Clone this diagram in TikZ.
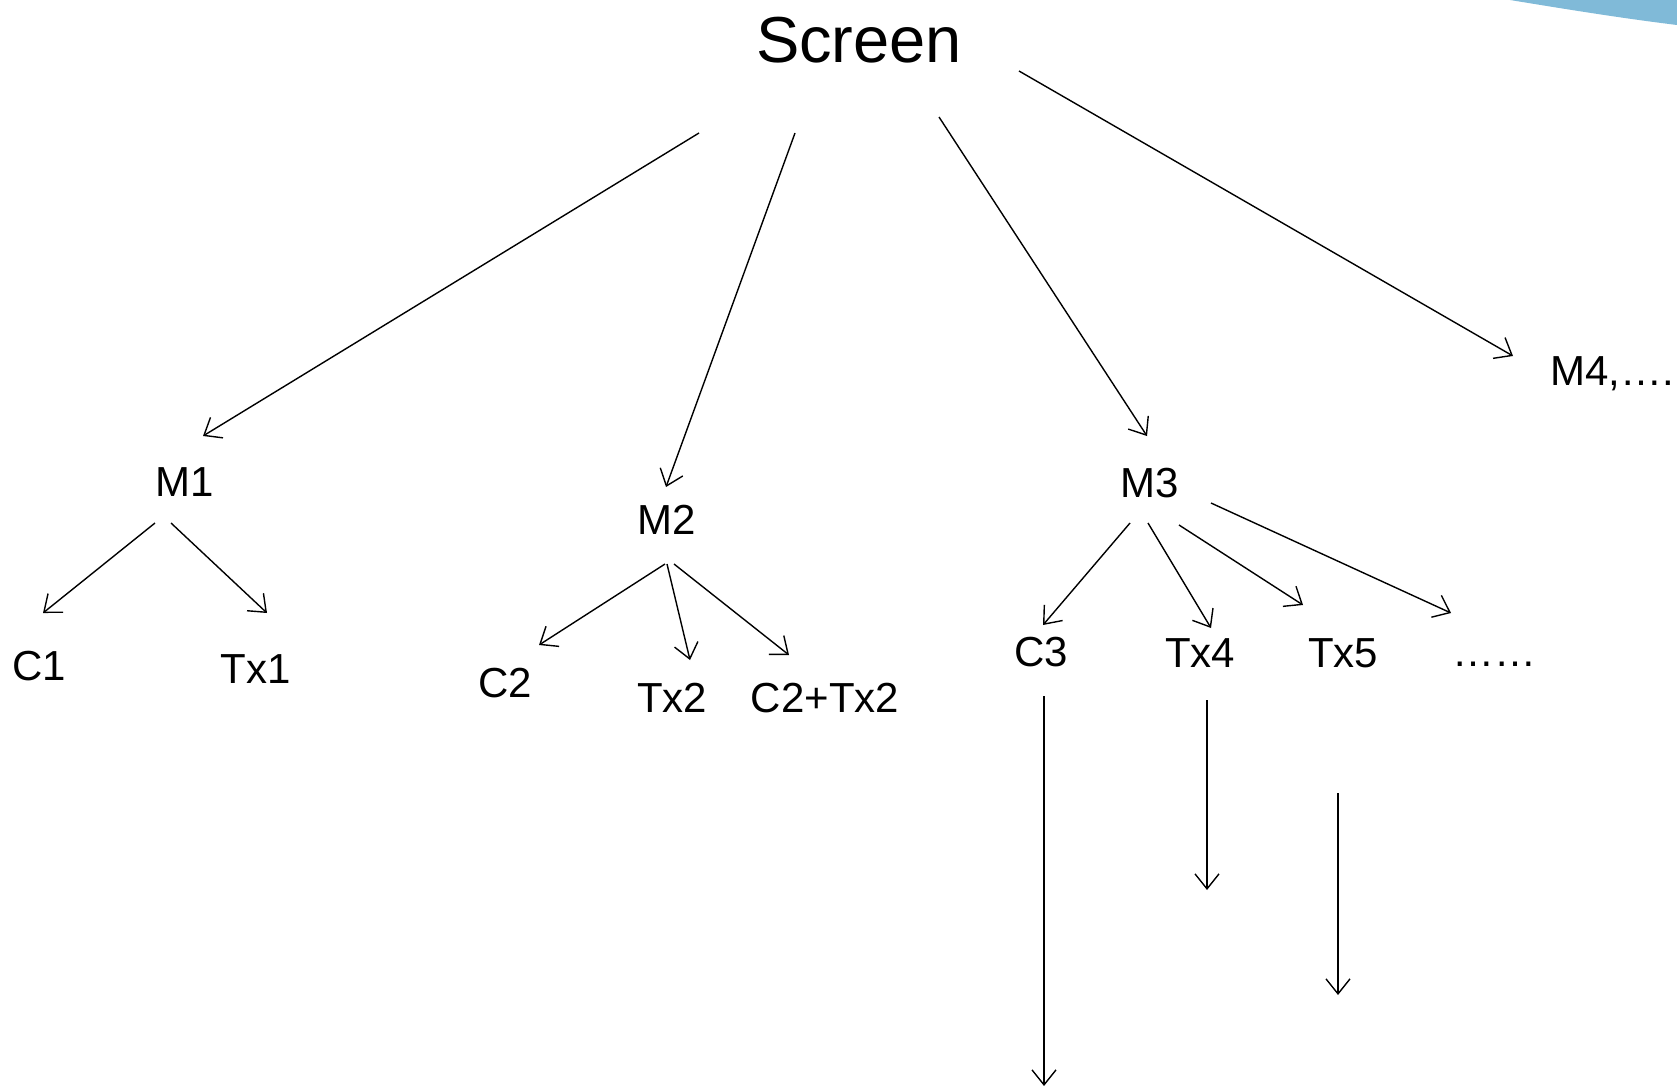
\documentclass[tikz,border=0pt]{standalone}
\usepackage{fontspec}
\setmainfont{Liberation Sans}
\usetikzlibrary{arrows.meta}
\definecolor{swoosh}{RGB}{128,186,216}
\tikzset{
  lbl/.style={inner sep=0pt, anchor=base, font=\fontsize{42}{50}\selectfont},
  big/.style={inner sep=0pt, anchor=base, font=\fontsize{65}{78}\selectfont},
  arr/.style={line width=1.4pt, -{Straight Barb[length=15pt,width=24pt,line width=1.4pt]}}
}
\begin{document}
\begin{tikzpicture}[x=1pt,y=-1pt]
\useasboundingbox (0,0) rectangle (1677,1090);
% decorative band in the upper right corner
\fill[swoosh] (1510,0) .. controls (1565,9) and (1620,18) .. (1677,25) -- (1677,0) -- cycle;

% labels
\node[big] (screen) at (859,62) {Screen};
\node[lbl] (m1) at (185,496) {M1};
\node[lbl] (m2) at (667,534) {M2};
\node[lbl] (m3) at (1150,497) {M3};
\node[lbl, anchor=base west] (m4) at (1550,385) {M4,….};
\node[lbl] (c1) at (39,680) {C1};
\node[lbl] (tx1) at (256,683) {Tx1};
\node[lbl] (c2) at (505,697) {C2};
\node[lbl] (tx2) at (672,712) {Tx2};
\node[lbl] (c2tx2) at (825,712) {C2+Tx2};
\node[lbl] (c3) at (1041,666) {C3};
\node[lbl] (tx4) at (1200,667) {Tx4};
\node[lbl] (tx5) at (1343,667) {Tx5};
\node[lbl] (more) at (1494,666) {……};

% free ends of the downward arrows
\coordinate (c3end) at ([shift={(3,420)}]c3.base);
\coordinate (tx4end) at ([shift={(7,223)}]tx4.base);
\coordinate (tx5end) at ([shift={(-5,328)}]tx5.base);

% Screen to the modules
\draw[arr] ([shift={(-160,71)}]screen.base) -- ([shift={(18,-60)}]m1.base);
\draw[arr] ([shift={(-64,71)}]screen.base) -- ([shift={(-1,-47)}]m2.base);
\draw[arr] ([shift={(80,55)}]screen.base) -- ([shift={(-3,-61)}]m3.base);
\draw[arr] ([shift={(160,9)}]screen.base) -- ([shift={(-37,-29)}]m4.base west);

% M1
\draw[arr] ([shift={(-30,27)}]m1.base) -- ([shift={(4,-67)}]c1.base);
\draw[arr] ([shift={(-14,27)}]m1.base) -- ([shift={(11,-70)}]tx1.base);

% M2
\draw[arr] ([shift={(-2,30)}]m2.base) -- ([shift={(34,-52)}]c2.base);
\draw[arr] ([shift={(0,30)}]m2.base) -- ([shift={(18,-52)}]tx2.base);
\draw[arr] ([shift={(7,30)}]m2.base) -- ([shift={(-36,-57)}]c2tx2.base);

% M3
\draw[arr] ([shift={(-20,26)}]m3.base) -- ([shift={(2,-41)}]c3.base);
\draw[arr] ([shift={(-2,26)}]m3.base) -- ([shift={(11,-39)}]tx4.base);
\draw[arr] ([shift={(29,28)}]m3.base) -- ([shift={(-40,-62)}]tx5.base);
\draw[arr] ([shift={(61,6)}]m3.base) -- ([shift={(-43,-53)}]more.base);

% downward arrows
\draw[arr] ([shift={(3,30)}]c3.base) -- (c3end);
\draw[arr] ([shift={(7,33)}]tx4.base) -- (tx4end);
\draw[arr] ([shift={(-5,126)}]tx5.base) -- (tx5end);
\end{tikzpicture}
\end{document}
